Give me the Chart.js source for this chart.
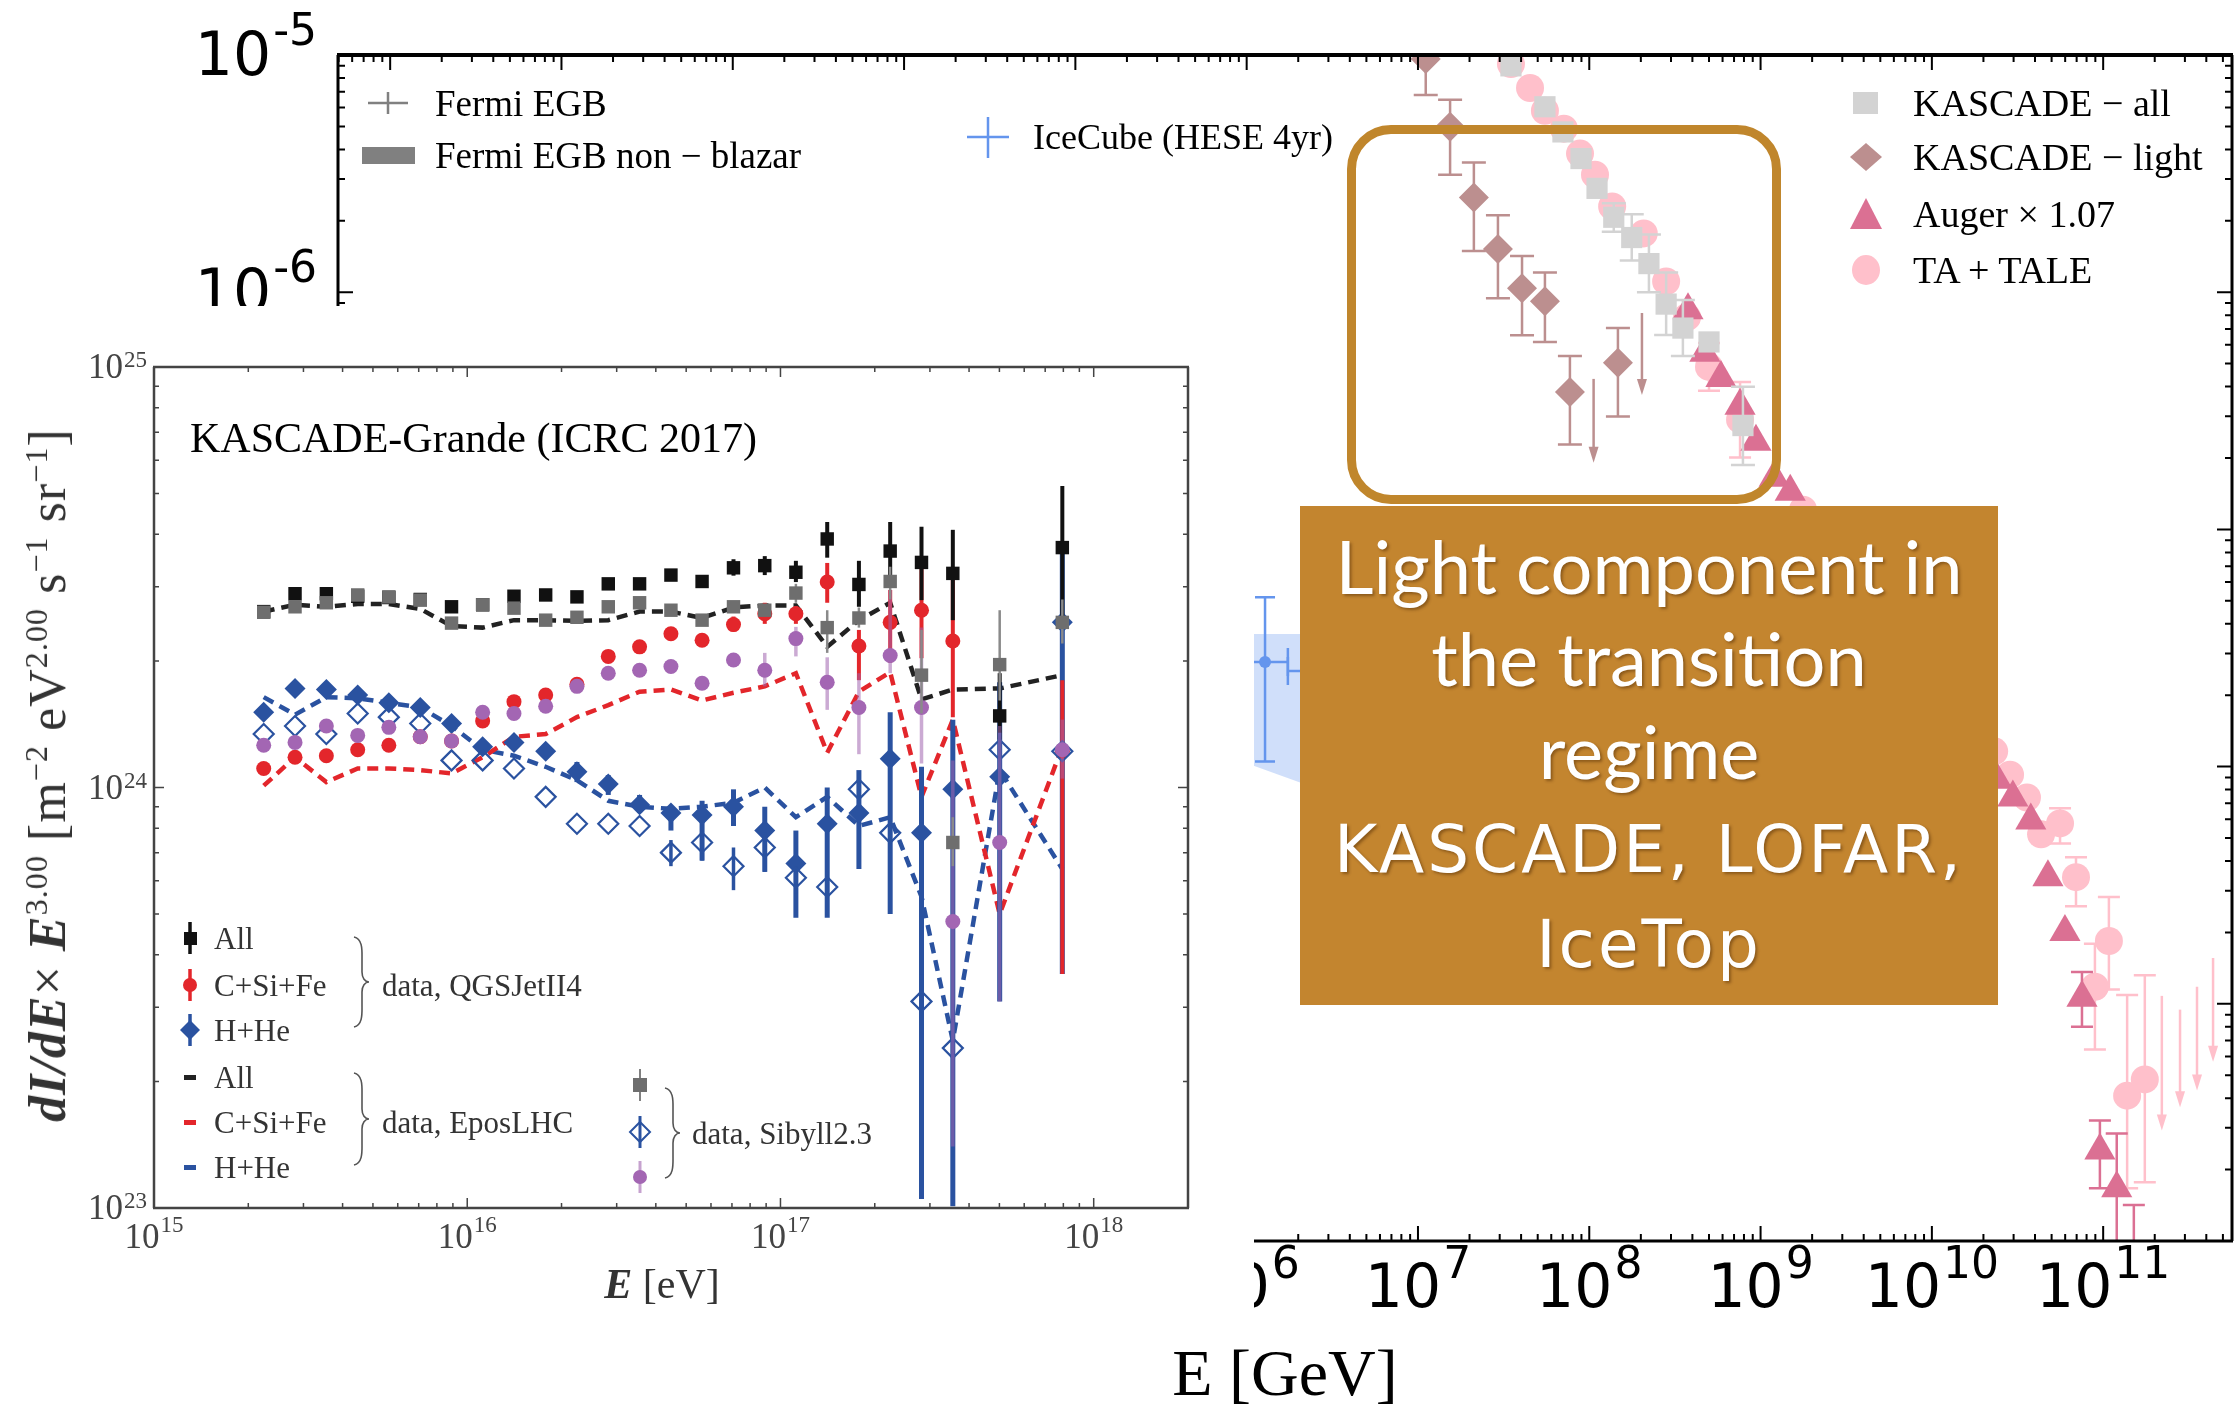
<!DOCTYPE html>
<html lang="en">
<head>
<meta charset="utf-8">
<title>Light component in the transition regime</title>
<script src="https://cdn.jsdelivr.net/npm/chart.js"></script>
<style>
  html, body { margin: 0; padding: 0; background: #fff; }
  body { width: 2235px; height: 1404px; position: relative; overflow: hidden; font-family: "Liberation Serif", serif; }
  canvas { position: absolute; }
  #main { left: 0; top: 0; z-index: 1; }
  #inset { left: 0; top: 306px; z-index: 3; background: #fff; }
  .t { position: absolute; white-space: nowrap; line-height: 1; transform: translateY(-50%); color: #000; }
  .tc { position: absolute; white-space: nowrap; line-height: 1; transform: translate(-50%, -50%); }
  .bg { z-index: 2; }
  .in { z-index: 4; color: #333; }
  sup { font-size: 62%; vertical-align: 0; position: relative; top: -0.55em; }
  #outline { position: absolute; left: 1347px; top: 125px; width: 434px; height: 379px; box-sizing: border-box;
             border: 9px solid #c0862c; border-radius: 44px; z-index: 5; }
  #note { position: absolute; left: 1300px; top: 506px; width: 698px; height: 499px; z-index: 6;
          background: #c3852f; color: #fff; }
  #note .tc { text-shadow: 2px 2px 3px rgba(70, 35, 0, 0.45); }
  .gill { font-family: Lato, sans-serif; font-size: 74px; }
  .chalk { font-family: "DejaVu Sans", sans-serif; font-size: 66px; letter-spacing: 3px; }
</style>
</head>
<body>
<canvas id="main" width="2235" height="1404"></canvas>

<!-- legend text of the big spectrum -->
<div class="t bg" style="left:435px; top:103px; font-size:37px;">Fermi EGB</div>
<div class="t bg" style="left:435px; top:155px; font-size:37px;">Fermi EGB non − blazar</div>
<div class="t bg" style="left:1033px; top:137px; font-size:36px;">IceCube (HESE 4yr)</div>
<div class="t bg" style="left:1913px; top:103px; font-size:38px;">KASCADE − all</div>
<div class="t bg" style="left:1913px; top:157px; font-size:38px;">KASCADE − light</div>
<div class="t bg" style="left:1913px; top:214px; font-size:38px;">Auger × 1.07</div>
<div class="t bg" style="left:1913px; top:270px; font-size:38px;">TA + TALE</div>
<div class="tc bg" style="left:1285px; top:1373px; font-size:66px;">E [GeV]</div>

<canvas id="inset" width="1254" height="1014"></canvas>
<div class="t in" style="left:190px; top:438px; font-size:42px; color:#000;">KASCADE-Grande (ICRC 2017)</div>
<div class="tc in" style="left:48px; top:775px; font-size:52px; letter-spacing:1px; transform:translate(-50%,-50%) rotate(-90deg);"><b><i>dI/dE</i></b>× <b><i>E</i></b><sup>3.00</sup> [m<sup>−2</sup> eV<sup>2.00</sup> s<sup>−1</sup> sr<sup>−1</sup>]</div>
<div class="tc in" style="left:662px; top:1284px; font-size:42px;"><b><i>E</i></b> [eV]</div>
<div class="t in" style="left:214px; top:938px; font-size:31px;">All</div>
<div class="t in" style="left:214px; top:985px; font-size:31px;">C+Si+Fe</div>
<div class="t in" style="left:214px; top:1030px; font-size:31px;">H+He</div>
<div class="t in" style="left:214px; top:1077px; font-size:31px;">All</div>
<div class="t in" style="left:214px; top:1122px; font-size:31px;">C+Si+Fe</div>
<div class="t in" style="left:214px; top:1167px; font-size:31px;">H+He</div>
<div class="t in" style="left:382px; top:985px; font-size:31px;">data, QGSJetII4</div>
<div class="t in" style="left:382px; top:1122px; font-size:31px;">data, EposLHC</div>
<div class="t in" style="left:692px; top:1133px; font-size:31px;">data, Sibyll2.3</div>

<div id="outline"></div>
<div id="note">
  <div class="tc gill" style="left:349px; top:60px;">Light component in</div>
  <div class="tc gill" style="left:349px; top:152px;">the transition</div>
  <div class="tc gill" style="left:349px; top:245px;">regime</div>
  <div class="tc chalk" style="left:349px; top:344px;">KASCADE, LOFAR,</div>
  <div class="tc chalk" style="left:349px; top:439px;">IceTop</div>
</div>

<script>
// ---------- big spectrum: E [GeV], E^2 flux ----------
const kasAllE  = [3.49e7, 5.51e7, 7.02e7, 8.95e7, 1.11e8, 1.39e8, 1.77e8, 2.23e8, 2.81e8, 3.52e8, 5.0e8, 7.89e8];
const kasAllF  = [9.0e-6, 6.05e-6, 4.74e-6, 3.66e-6, 2.74e-6, 2.07e-6, 1.70e-6, 1.32e-6, 8.91e-7, 7.06e-7, 6.17e-7, 2.74e-7];
const kasAllLo = [null, null, null, null, null, 1.80e-6, 1.36e-6, 1.0e-6, 6.6e-7, 5.38e-7, null, 1.87e-7];
const kasAllHi = [null, null, null, null, null, 2.37e-6, 2.13e-6, 1.75e-6, 1.21e-6, 9.27e-7, null, 3.99e-7];

const kasLightE  = [1.11e7, 1.54e7, 2.12e7, 2.93e7, 4.05e7, 5.51e7, 7.71e7, 1.47e8];
const kasLightF  = [9.62e-6, 4.98e-6, 2.51e-6, 1.52e-6, 1.04e-6, 9.16e-7, 3.80e-7, 5.04e-7];
const kasLightLo = [6.79e-6, 3.13e-6, 1.49e-6, 9.44e-7, 6.59e-7, 6.17e-7, 2.28e-7, 2.99e-7];
const kasLightHi = [1.4e-5, 6.47e-6, 3.52e-6, 2.11e-6, 1.42e-6, 1.21e-6, 5.38e-7, 7.06e-7];
const kasLightLimE   = [1.06e8, 2.03e8];
const kasLightLimF   = [4.31e-7, 8.17e-7];
const kasLightLimTip = [1.91e-7, 3.69e-7];

const augerE  = [3.77e8, 4.73e8, 5.87e8, 7.59e8, 9.40e8, 1.20e9, 1.49e9, 2.40e10, 2.97e10, 3.78e10, 4.76e10, 5.98e10, 7.52e10, 9.57e10, 1.20e11, 1.51e11];
const augerF  = [8.39e-7, 5.55e-7, 4.35e-7, 3.32e-7, 2.34e-7, 1.65e-7, 1.44e-7, 8.81e-9, 7.41e-9, 5.93e-9, 3.42e-9, 2.01e-9, 1.06e-9, 2.41e-10, 1.67e-10, 6.3e-11];
const augerLo = [null, null, null, null, null, null, null, null, null, null, null, null, 8.0e-10, 1.67e-10, 5.0e-11, 4.0e-11];
const augerHi = [null, null, null, null, null, null, null, null, null, null, null, null, 1.36e-9, 3.22e-10, 2.84e-10, 1.42e-10];

const taE  = [3.49e7, 4.51e7, 5.51e7, 7.11e7, 8.83e7, 1.08e8, 1.36e8, 2.08e8, 2.81e8, 3.72e8, 5.0e8, 7.59e8, 1.77e9,
              2.31e10, 2.86e10, 3.59e10, 4.34e10, 5.60e10, 6.94e10, 8.95e10, 1.08e11, 1.38e11, 1.75e11];
const taF  = [9.16e-6, 7.26e-6, 5.82e-6, 4.89e-6, 3.84e-6, 3.13e-6, 2.30e-6, 1.77e-6, 1.11e-6, 7.85e-7, 4.84e-7, 2.90e-7, 1.21e-7,
              1.16e-8, 9.25e-9, 7.41e-9, 5.18e-9, 5.76e-9, 3.42e-9, 1.18e-9, 1.84e-9, 4.10e-10, 4.80e-10];
const taLo = [null, null, null, null, null, null, null, null, null, null, 3.84e-7, 2.01e-7, null,
              null, null, null, null, 4.74e-9, 2.58e-9, 6.41e-10, 1.15e-9, 1.67e-10, 1.77e-10];
const taHi = [null, null, null, null, null, null, null, null, null, null, 6.11e-7, 4.18e-7, null,
              null, null, null, null, 6.67e-9, 4.15e-9, 1.79e-9, 2.82e-9, 1.09e-9, 1.32e-9];
const taLimE   = [2.20e11, 2.81e11, 3.53e11, 4.38e11];
const taLimF   = [1.08e-9, 9.45e-10, 1.18e-9, 1.56e-9];
const taLimTip = [2.92e-10, 3.66e-10, 4.31e-10, 5.70e-10];

const iceE   = [1.28e6, 2.82e6];
const iceF   = [2.76e-8, 2.53e-8];
const iceLo  = [1.05e-8, null];
const iceHi  = [5.18e-8, null];
const iceXLo = [8.0e5, 1.74e6];
const iceXHi = [1.74e6, 4.5e6];
const iceBandE   = [6.3e5, 1.13e6, 2.05e6, 3.2e6];
const iceBandTop = [3.62e-8, 3.62e-8, 3.62e-8, 3.62e-8];
const iceBandBot = [1.16e-8, 1.0e-8, 8.57e-9, 7.6e-9];

// ---------- KASCADE-Grande inset: E [eV], dI/dE x E^3 ----------
const kgE = [2.24e15, 2.82e15, 3.55e15, 4.47e15, 5.62e15, 7.08e15, 8.91e15, 1.12e16, 1.41e16, 1.78e16, 2.24e16, 2.82e16, 3.55e16,
             4.47e16, 5.62e16, 7.08e16, 8.91e16, 1.12e17, 1.41e17, 1.78e17, 2.24e17, 2.82e17, 3.55e17, 5.01e17, 7.94e17];

const qgsAll = [2.62e24, 2.89e24, 2.89e24, 2.85e24, 2.83e24, 2.80e24, 2.69e24, 2.72e24, 2.85e24, 2.87e24, 2.84e24, 3.05e24, 3.05e24,
                3.20e24, 3.09e24, 3.33e24, 3.37e24, 3.25e24, 3.90e24, 3.04e24, 3.65e24, 3.43e24, 3.23e24, 1.48e24, 3.72e24];
const qgsAllErr = [null, null, null, null, null, null, null, null, null, null, null, null, null,
                   [3.10e24, 3.30e24], [3.00e24, 3.17e24], [3.19e24, 3.49e24], [3.20e24, 3.55e24], [3.08e24, 3.46e24], [3.52e24, 4.28e24],
                   [2.69e24, 3.46e24], [3.19e24, 4.28e24], [2.79e24, 4.17e24], [2.50e24, 4.10e24], [1.30e24, 1.87e24], [2.50e24, 5.21e24]];

const qgsCSF = [1.11e24, 1.18e24, 1.19e24, 1.23e24, 1.26e24, 1.32e24, 1.29e24, 1.44e24, 1.60e24, 1.66e24, 1.76e24, 2.05e24, 2.16e24,
                2.32e24, 2.24e24, 2.44e24, 2.59e24, 2.59e24, 3.08e24, 2.17e24, 2.47e24, 2.64e24, 2.23e24, null, 1.22e24];
const qgsCSFErr = [null, null, null, null, null, null, null, null, null, null, null, null, null, null, null,
                   [2.35e24, 2.55e24], [2.45e24, 2.75e24], [2.45e24, 2.70e24], [2.75e24, 3.42e24], [1.80e24, 2.37e24],
                   [1.98e24, 2.95e24], [2.03e24, 3.33e24], [1.47e24, 3.12e24], null, [0.36e24, 1.80e24]];

const qgsHHe = [1.51e24, 1.72e24, 1.71e24, 1.66e24, 1.59e24, 1.55e24, 1.42e24, 1.25e24, 1.28e24, 1.22e24, 1.09e24, 1.02e24, 0.91e24,
                0.87e24, 0.86e24, 0.90e24, 0.79e24, 0.66e24, 0.82e24, 0.87e24, 1.17e24, 0.78e24, 0.99e24, 1.06e24, 2.47e24];
const qgsHHeErr = [null, null, null, null, null, null, null, null, null, null,
                   [1.03e24, 1.15e24], [0.96e24, 1.07e24], [0.87e24, 0.96e24], [0.79e24, 0.90e24], [0.67e24, 0.93e24],
                   [0.81e24, 0.99e24], [0.63e24, 0.90e24], [0.49e24, 0.79e24], [0.49e24, 1.00e24], [0.64e24, 1.10e24],
                   [0.50e24, 1.51e24], [0.105e24, 1.12e24], [0.101e24, 1.45e24], [0.31e24, 1.78e24], [0.36e24, 3.61e24]];

const sibAll = [2.61e24, 2.69e24, 2.75e24, 2.87e24, 2.84e24, 2.79e24, 2.46e24, 2.72e24, 2.67e24, 2.50e24, 2.54e24, 2.69e24, 2.75e24,
                2.64e24, 2.50e24, 2.69e24, 2.64e24, 2.90e24, 2.40e24, 2.53e24, 3.09e24, 1.85e24, 0.74e24, 1.96e24, 2.47e24];
const sibAllErr = [null, null, null, null, null, null, null, null, null, null, null, null, null, null, null, null, null,
                   [2.75e24, 3.05e24], [2.09e24, 2.64e24], [2.40e24, 2.68e24], [2.80e24, 3.35e24], [1.50e24, 2.37e24],
                   [0.65e24, 0.85e24], [1.61e24, 2.64e24], [2.20e24, 2.80e24]];

const sibHHe = [1.34e24, 1.40e24, 1.34e24, 1.50e24, 1.47e24, 1.42e24, 1.16e24, 1.16e24, 1.11e24, 0.95e24, 0.82e24, 0.82e24, 0.81e24,
                0.70e24, 0.74e24, 0.65e24, 0.72e24, 0.61e24, 0.58e24, 0.99e24, 0.78e24, 0.31e24, 0.24e24, 1.23e24, 1.22e24];
const sibHHeErr = [null, null, null, null, null, null, null, null, null, null, null, null, null,
                   [0.65e24, 0.75e24], [0.67e24, 0.79e24], [0.57e24, 0.72e24], [0.63e24, 0.78e24], [0.56e24, 0.65e24],
                   [0.54e24, 0.63e24], [0.90e24, 1.08e24], [0.70e24, 0.86e24], [0.26e24, 0.36e24], [0.21e24, 0.27e24],
                   [1.10e24, 1.35e24], null];

const sibCSF = [1.26e24, 1.28e24, 1.40e24, 1.33e24, 1.39e24, 1.32e24, 1.29e24, 1.51e24, 1.50e24, 1.56e24, 1.74e24, 1.87e24, 1.90e24,
                1.94e24, 1.77e24, 2.01e24, 1.90e24, 2.26e24, 1.78e24, 1.55e24, 2.06e24, 1.55e24, 0.48e24, 0.74e24, 1.23e24];
const sibCSFErr = [null, null, null, null, null, null, null, null, null, null, null, null, null, null, null, null,
                   [1.74e24, 2.09e24], [2.05e24, 2.41e24], [1.53e24, 2.04e24], [1.20e24, 1.87e24], [1.87e24, 2.95e24],
                   [1.14e24, 2.40e24], [0.14e24, 1.16e24], [0.31e24, 1.40e24], [1.05e24, 1.45e24]];

const eposAll = [2.62e24, 2.72e24, 2.69e24, 2.73e24, 2.73e24, 2.66e24, 2.42e24, 2.40e24, 2.50e24, 2.50e24, 2.49e24, 2.50e24, 2.62e24,
                 2.62e24, 2.53e24, 2.68e24, 2.71e24, 2.71e24, 2.16e24, 2.50e24, 2.75e24, 1.62e24, 1.71e24, 1.72e24, 1.85e24];
const eposCSF = [1.01e24, 1.18e24, 1.03e24, 1.11e24, 1.11e24, 1.10e24, 1.08e24, 1.18e24, 1.32e24, 1.34e24, 1.47e24, 1.57e24, 1.69e24,
                 1.71e24, 1.61e24, 1.68e24, 1.74e24, 1.87e24, 1.21e24, 1.69e24, 1.88e24, 0.95e24, 1.45e24, 0.50e24, 1.25e24];
const eposHHe = [1.64e24, 1.49e24, 1.64e24, 1.63e24, 1.59e24, 1.55e24, 1.40e24, 1.23e24, 1.19e24, 1.12e24, 1.04e24, 0.93e24, 0.90e24,
                 0.89e24, 0.90e24, 0.92e24, 1.00e24, 0.85e24, 0.95e24, 0.81e24, 0.85e24, 0.55e24, 0.25e24, 1.10e24, 0.64e24];

// ---------- helpers ----------
const pts = (xs, ys) => xs.map((x, i) => ({ x: x, y: ys[i] }));
const pairs = (lo, hi) => lo.map((l, i) => (l == null ? null : [l, hi[i]]));

// error bars / x-error bars / upper-limit arrows, drawn under each dataset's markers
const errorBars = {
  id: 'errorBars',
  beforeDatasetDraw(chart, args) {
    const ds = chart.data.datasets[args.index];
    if (!ds.err && !ds.xerr && !ds.tip) return;
    const { ctx, chartArea: a } = chart;
    const sx = chart.scales.x, sy = chart.scales.y;
    ctx.save();
    ctx.beginPath();
    ctx.rect(a.left, a.top, a.right - a.left, a.bottom - a.top);
    ctx.clip();
    ctx.strokeStyle = ds.errColor;
    ctx.fillStyle = ds.errColor;
    ctx.lineWidth = ds.errWidth || 2;
    ds.data.forEach((p, i) => {
      if (p.y == null) return;
      const px = sx.getPixelForValue(p.x), py = sy.getPixelForValue(p.y);
      const e = ds.err && ds.err[i];
      if (e) {
        const y0 = sy.getPixelForValue(e[0]), y1 = sy.getPixelForValue(e[1]);
        ctx.beginPath();
        ctx.moveTo(px, y0); ctx.lineTo(px, y1);
        if (ds.cap) {
          ctx.moveTo(px - ds.cap, y0); ctx.lineTo(px + ds.cap, y0);
          ctx.moveTo(px - ds.cap, y1); ctx.lineTo(px + ds.cap, y1);
        }
        ctx.stroke();
      }
      const xe = ds.xerr && ds.xerr[i];
      if (xe) {
        const x0 = sx.getPixelForValue(xe[0]), x1 = sx.getPixelForValue(xe[1]);
        ctx.beginPath();
        ctx.moveTo(x0, py); ctx.lineTo(x1, py);
        ctx.moveTo(x0, py - 14); ctx.lineTo(x0, py + 14);
        ctx.moveTo(x1, py - 14); ctx.lineTo(x1, py + 14);
        ctx.stroke();
      }
      if (ds.tip) {
        const ty = sy.getPixelForValue(ds.tip[i]);
        ctx.beginPath();
        ctx.moveTo(px, py); ctx.lineTo(px, ty - 12);
        ctx.stroke();
        ctx.beginPath();
        ctx.moveTo(px - 5, ty - 16); ctx.lineTo(px + 5, ty - 16); ctx.lineTo(px, ty);
        ctx.closePath();
        ctx.fill();
      }
    });
    ctx.restore();
  }
};

function logTicks(min, max) {
  const out = [];
  for (let d = Math.floor(Math.log10(min)); d <= Math.ceil(Math.log10(max)); d++) {
    for (let m = 1; m < 10; m++) {
      const v = m * Math.pow(10, d);
      if (v >= min * 0.999 && v <= max * 1.001) out.push({ v: v, major: m === 1, d: d });
    }
  }
  return out;
}

function drawPow(ctx, exp, x, yBase, ySup, o, align) {
  ctx.font = o.font;
  const wb = ctx.measureText('10').width;
  ctx.font = o.supFont;
  const we = ctx.measureText(exp).width;
  const x0 = align === 'right' ? x - wb - we - o.gap : x - (wb + we + o.gap) / 2;
  ctx.textAlign = 'left';
  ctx.textBaseline = 'alphabetic';
  ctx.fillStyle = o.color;
  ctx.font = o.font;
  ctx.fillText('10', x0, yBase);
  ctx.font = o.supFont;
  ctx.fillText(exp, x0 + wb + o.gap, ySup);
}

// matplotlib-like frame with inward ticks and 10^n labels
const frameAxes = {
  id: 'frameAxes',
  afterDatasetsDraw(chart, args, o) {
    const { ctx, chartArea: a } = chart;
    const sx = chart.scales.x, sy = chart.scales.y;
    ctx.save();
    ctx.strokeStyle = o.color;
    ctx.lineWidth = o.tickWidth;
    ctx.beginPath();
    logTicks(sx.min, sx.max).forEach(t => {
      const px = sx.getPixelForValue(t.v), len = t.major ? o.major : o.minor;
      ctx.moveTo(px, a.bottom); ctx.lineTo(px, a.bottom - len);
      ctx.moveTo(px, a.top); ctx.lineTo(px, a.top + len);
    });
    logTicks(sy.min, sy.max).forEach(t => {
      const py = sy.getPixelForValue(t.v), len = t.major ? o.major : o.minor;
      ctx.moveTo(a.left, py); ctx.lineTo(a.left + len, py);
      ctx.moveTo(a.right, py); ctx.lineTo(a.right - len, py);
    });
    ctx.stroke();
    const lw = o.lineWidth;
    ctx.lineWidth = lw.top; ctx.beginPath(); ctx.moveTo(a.left - 1, a.top); ctx.lineTo(a.right + 1, a.top); ctx.stroke();
    ctx.lineWidth = lw.bottom; ctx.beginPath(); ctx.moveTo(a.left - 1, a.bottom); ctx.lineTo(a.right + 1, a.bottom); ctx.stroke();
    ctx.lineWidth = lw.left; ctx.beginPath(); ctx.moveTo(a.left, a.top); ctx.lineTo(a.left, a.bottom); ctx.stroke();
    ctx.lineWidth = lw.right; ctx.beginPath(); ctx.moveTo(a.right, a.top); ctx.lineTo(a.right, a.bottom); ctx.stroke();
    logTicks(sx.min, sx.max).filter(t => t.major).forEach(t => {
      drawPow(ctx, String(t.d), sx.getPixelForValue(t.v), a.bottom + o.xBase, a.bottom + o.xSup, o, 'center');
    });
    logTicks(sy.min, sy.max).filter(t => t.major).forEach(t => {
      const py = sy.getPixelForValue(t.v);
      drawPow(ctx, String(t.d), a.left - o.yGap, py + o.yBase, py + o.ySup, o, 'right');
    });
    ctx.restore();
  }
};

// legend markers of the big spectrum
const mainLegend = {
  id: 'mainLegend',
  afterDraw(chart) {
    const ctx = chart.ctx;
    ctx.save();
    ctx.lineWidth = 2.5;
    ctx.strokeStyle = '#808080';
    ctx.beginPath();
    ctx.moveTo(368, 103); ctx.lineTo(408, 103); ctx.moveTo(388, 92); ctx.lineTo(388, 114);
    ctx.stroke();
    ctx.fillStyle = '#808080';
    ctx.fillRect(362, 147, 53, 17);
    ctx.strokeStyle = '#6495ed';
    ctx.beginPath();
    ctx.moveTo(967, 137); ctx.lineTo(1009, 137); ctx.moveTo(988, 117); ctx.lineTo(988, 158);
    ctx.stroke();
    ctx.fillStyle = '#d3d3d3';
    ctx.fillRect(1853, 92, 25, 22);
    ctx.fillStyle = '#bc8f8f';
    ctx.beginPath();
    ctx.moveTo(1866, 143); ctx.lineTo(1882, 157); ctx.lineTo(1866, 171); ctx.lineTo(1850, 157);
    ctx.closePath(); ctx.fill();
    ctx.fillStyle = '#db7093';
    ctx.beginPath();
    ctx.moveTo(1866, 198); ctx.lineTo(1882, 229); ctx.lineTo(1850, 229);
    ctx.closePath(); ctx.fill();
    ctx.fillStyle = '#ffc0cb';
    ctx.beginPath();
    ctx.ellipse(1866, 270, 14, 15, 0, 0, Math.PI * 2);
    ctx.fill();
    ctx.restore();
  }
};

// axes are hidden (drawn by frameAxes), so no tick labels should take room
const hiddenLog = (min, max) => ({ type: 'logarithmic', min: min, max: max, display: false, ticks: { display: false } });

new Chart(document.getElementById('main'), {
  type: 'scatter',
  data: {
    datasets: [
      { label: 'KASCADE - light', data: pts(kasLightE, kasLightF), pointStyle: 'rectRot', pointRadius: 15,
        pointBackgroundColor: '#bc8f8f', pointBorderWidth: 0, err: pairs(kasLightLo, kasLightHi),
        errColor: '#bc8f8f', errWidth: 2.5, cap: 12 },
      { label: 'KASCADE - light limits', data: pts(kasLightLimE, kasLightLimF), pointRadius: 0,
        tip: kasLightLimTip, errColor: '#bc8f8f', errWidth: 2.5 },
      { label: 'KASCADE - all', data: pts(kasAllE, kasAllF), pointStyle: 'rect', pointRadius: 15,
        pointBackgroundColor: '#d3d3d3', pointBorderWidth: 0, err: pairs(kasAllLo, kasAllHi),
        errColor: '#d3d3d3', errWidth: 2.5, cap: 12 },
      { label: 'Auger x 1.07', data: pts(augerE, augerF), pointStyle: 'triangle', pointRadius: 18,
        pointBackgroundColor: '#db7093', pointBorderWidth: 0, err: pairs(augerLo, augerHi),
        errColor: '#db7093', errWidth: 2.5, cap: 11 },
      { label: 'TA + TALE', data: pts(taE, taF), pointStyle: 'circle', pointRadius: 14,
        pointBackgroundColor: '#ffc0cb', pointBorderWidth: 0, err: pairs(taLo, taHi),
        errColor: '#ffc0cb', errWidth: 2.5, cap: 11 },
      { label: 'TA + TALE limits', data: pts(taLimE, taLimF), pointRadius: 0,
        tip: taLimTip, errColor: '#ffc0cb', errWidth: 2.5 },
      { label: 'IceCube (HESE 4yr)', data: pts(iceE, iceF), pointStyle: 'circle', pointRadius: 6,
        pointBackgroundColor: '#6495ed', pointBorderWidth: 0, err: pairs(iceLo, iceHi),
        xerr: pairs(iceXLo, iceXHi), errColor: '#6495ed', errWidth: 2.5, cap: 10 },
      { label: 'IceCube band top', data: pts(iceBandE, iceBandTop), showLine: true, pointRadius: 0,
        borderWidth: 0, borderColor: 'rgba(0,0,0,0)', backgroundColor: 'rgba(100,149,237,0.3)', fill: '+1' },
      { label: 'IceCube band bottom', data: pts(iceBandE, iceBandBot), showLine: true, pointRadius: 0,
        borderWidth: 0, borderColor: 'rgba(0,0,0,0)' }
    ]
  },
  options: {
    responsive: false,
    animation: false,
    devicePixelRatio: 1,
    layout: { autoPadding: false, padding: { left: 338, top: 55, right: 3, bottom: 163 } },
    datasets: { scatter: { clip: 0 } },
    scales: { x: hiddenLog(4.96, 5.65e11), y: hiddenLog(1e-10, 1e-5) },
    plugins: {
      legend: { display: false },
      tooltip: { enabled: false },
      filler: { propagate: false },
      frameAxes: {
        color: '#000', tickWidth: 2, major: 15, minor: 7,
        lineWidth: { top: 4, bottom: 3, left: 3, right: 3 },
        font: '60px "DejaVu Sans"', supFont: '44px "DejaVu Sans"', gap: 2,
        xBase: 66, xSup: 37, yGap: 21, yBase: 20, ySup: -10
      }
    }
  },
  plugins: [errorBars, frameAxes, mainLegend]
});

// inset legend markers and braces (canvas coords, inset top = 306)
function brace(ctx, x, y0, y1) {
  const m = (y0 + y1) / 2;
  ctx.beginPath();
  ctx.moveTo(x, y0);
  ctx.bezierCurveTo(x + 9, y0 + 2, x + 8, y0 + 14, x + 8, y0 + 22);
  ctx.lineTo(x + 8, m - 10);
  ctx.bezierCurveTo(x + 8, m - 4, x + 11, m, x + 15, m);
  ctx.bezierCurveTo(x + 11, m, x + 8, m + 4, x + 8, m + 10);
  ctx.lineTo(x + 8, y1 - 22);
  ctx.bezierCurveTo(x + 8, y1 - 14, x + 9, y1 - 2, x, y1);
  ctx.stroke();
}

const insetLegend = {
  id: 'insetLegend',
  afterDraw(chart) {
    const ctx = chart.ctx, oy = -306;
    ctx.save();
    const bar = (x, y, col, w) => {
      ctx.strokeStyle = col; ctx.lineWidth = w;
      ctx.beginPath(); ctx.moveTo(x, y - 16 + oy); ctx.lineTo(x, y + 16 + oy); ctx.stroke();
    };
    bar(190, 938, '#111', 3.5);
    ctx.fillStyle = '#111'; ctx.fillRect(184, 932 + oy, 13, 13);
    bar(190, 985, '#e3262b', 3.5);
    ctx.fillStyle = '#e3262b'; ctx.beginPath(); ctx.arc(190, 985 + oy, 7, 0, Math.PI * 2); ctx.fill();
    bar(190, 1030, '#2a52a0', 3.5);
    ctx.fillStyle = '#2a52a0'; ctx.beginPath();
    ctx.moveTo(190, 1020 + oy); ctx.lineTo(200, 1030 + oy); ctx.lineTo(190, 1040 + oy); ctx.lineTo(180, 1030 + oy);
    ctx.closePath(); ctx.fill();
    ctx.fillStyle = '#222'; ctx.fillRect(184, 1075 + oy, 12, 5);
    ctx.fillStyle = '#e3262b'; ctx.fillRect(184, 1120 + oy, 12, 5);
    ctx.fillStyle = '#2a52a0'; ctx.fillRect(184, 1165 + oy, 12, 5);
    bar(640, 1085, '#808080', 2);
    ctx.fillStyle = '#6e6e6e'; ctx.fillRect(633, 1078 + oy, 14, 14);
    bar(640, 1132, '#2a52a0', 3);
    ctx.strokeStyle = '#2a52a0'; ctx.lineWidth = 2; ctx.beginPath();
    ctx.moveTo(640, 1122 + oy); ctx.lineTo(650, 1132 + oy); ctx.lineTo(640, 1142 + oy); ctx.lineTo(630, 1132 + oy);
    ctx.closePath(); ctx.stroke();
    bar(640, 1177, 'rgba(160,100,175,0.6)', 3);
    ctx.fillStyle = '#a366b3'; ctx.beginPath(); ctx.arc(640, 1177 + oy, 7, 0, Math.PI * 2); ctx.fill();
    ctx.strokeStyle = '#555'; ctx.lineWidth = 1.6;
    brace(ctx, 354, 937 + oy, 1027 + oy);
    brace(ctx, 354, 1073 + oy, 1165 + oy);
    brace(ctx, 665, 1088 + oy, 1178 + oy);
    ctx.restore();
  }
};

const dash = [11, 7];
new Chart(document.getElementById('inset'), {
  type: 'scatter',
  data: {
    datasets: [
      { label: 'Sibyll All', data: pts(kgE, sibAll), pointStyle: 'rect', pointRadius: 9.5,
        pointBackgroundColor: '#6e6e6e', pointBorderWidth: 0, err: sibAllErr, errColor: '#8a8a8a', errWidth: 2.5 },
      { label: 'Sibyll C+Si+Fe', data: pts(kgE, sibCSF), pointStyle: 'circle', pointRadius: 7.5,
        pointBackgroundColor: '#a366b3', pointBorderWidth: 0, err: sibCSFErr, errColor: 'rgba(160,100,175,0.55)', errWidth: 3.5 },
      { label: 'Sibyll H+He', data: pts(kgE, sibHHe), pointStyle: 'rectRot', pointRadius: 10,
        pointBackgroundColor: 'rgba(255,255,255,0)', pointBorderColor: '#2a52a0', pointBorderWidth: 2.2,
        err: sibHHeErr, errColor: '#2a52a0', errWidth: 3.5 },
      { label: 'QGSJet All', data: pts(kgE, qgsAll), pointStyle: 'rect', pointRadius: 9.5,
        pointBackgroundColor: '#111', pointBorderWidth: 0, err: qgsAllErr, errColor: '#111', errWidth: 4 },
      { label: 'QGSJet C+Si+Fe', data: pts(kgE, qgsCSF), pointStyle: 'circle', pointRadius: 7.5,
        pointBackgroundColor: '#e3262b', pointBorderWidth: 0, err: qgsCSFErr, errColor: '#e3262b', errWidth: 4 },
      { label: 'QGSJet H+He', data: pts(kgE, qgsHHe), pointStyle: 'rectRot', pointRadius: 10.5,
        pointBackgroundColor: '#2a52a0', pointBorderWidth: 0, err: qgsHHeErr, errColor: '#2a52a0', errWidth: 5 },
      { label: 'EposLHC All', data: pts(kgE, eposAll), showLine: true, pointRadius: 0,
        borderColor: '#222', borderWidth: 4.5, borderDash: dash },
      { label: 'EposLHC C+Si+Fe', data: pts(kgE, eposCSF), showLine: true, pointRadius: 0,
        borderColor: '#e3262b', borderWidth: 4.5, borderDash: dash },
      { label: 'EposLHC H+He', data: pts(kgE, eposHHe), showLine: true, pointRadius: 0,
        borderColor: '#2a52a0', borderWidth: 4.5, borderDash: dash }
    ]
  },
  options: {
    responsive: false,
    animation: false,
    devicePixelRatio: 1,
    layout: { autoPadding: false, padding: { left: 154, top: 61, right: 66, bottom: 112 } },
    datasets: { scatter: { clip: 0 } },
    scales: { x: hiddenLog(1e15, 2.0e18), y: hiddenLog(1e23, 1e25) },
    plugins: {
      legend: { display: false },
      tooltip: { enabled: false },
      frameAxes: {
        color: '#444', tickWidth: 1.5, major: 10, minor: 5,
        lineWidth: { top: 2.5, bottom: 2.5, left: 2.5, right: 2.5 },
        font: '35px "Liberation Serif"', supFont: '23px "Liberation Serif"', gap: 1,
        xBase: 40, xSup: 24, yGap: 7, yBase: 11, ySup: 0
      }
    }
  },
  plugins: [errorBars, frameAxes, insetLegend]
});
</script>
</body>
</html>
